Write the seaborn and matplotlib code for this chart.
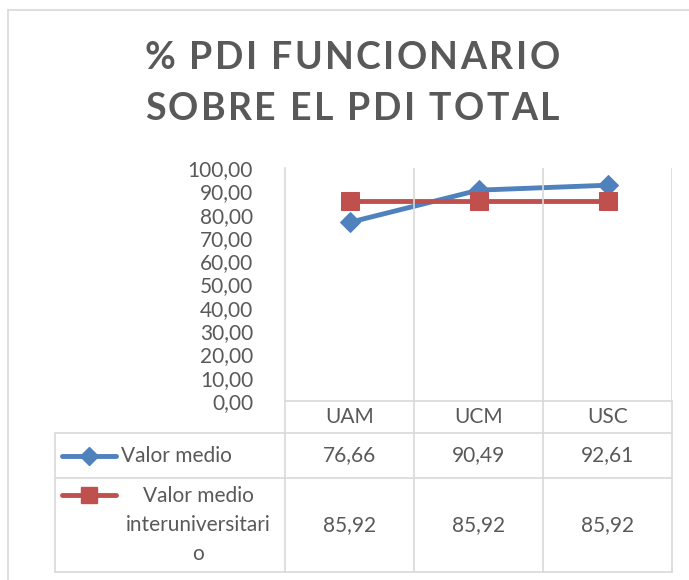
import matplotlib.pyplot as plt
from matplotlib.lines import Line2D
from matplotlib import font_manager
from matplotlib.font_manager import FontProperties
from matplotlib.ft2font import FT2Font
import seaborn as sns
import pandas as pd

# data
universidades = ['UAM', 'UCM', 'USC']
valor_medio = [76.66, 90.49, 92.61]
valor_inter = [85.92, 85.92, 85.92]
series_names = ['Valor medio', 'Valor medio\ninteruniversitari\no']
y_ticks = [0, 10, 20, 30, 40, 50, 60, 70, 80, 90, 100]
title_lines = ['% PDI FUNCIONARIO', 'SOBRE EL PDI TOTAL']

blue = '#4f81bd'
red = '#c0504d'
txt = '#595959'
grid = '#d9d9d9'

sns.set_theme(style='white')
plt.rcParams['font.family'] = ['Lato', 'DejaVu Sans']

W, H = 689, 580
fig = plt.figure(figsize=(W / 100, H / 100), dpi=100)


def fx(px):
    return px / W


def fy(py):
    return 1 - py / H


# outer chart frame
fig.add_artist(Line2D([fx(8), fx(8)], [fy(10), 0], color=grid, lw=1.2))
fig.add_artist(Line2D([fx(8), 1], [fy(10), fy(10)], color=grid, lw=1.2))

# title, drawn letter by letter to get the wide Excel character spacing
title_size = 27
fp = FontProperties(family='Lato', weight='bold')
ft = FT2Font(font_manager.findfont(fp))
ft.set_size(title_size, 100)


def advances(s):
    return [ft.load_char(ord(c)).linearHoriAdvance / 65536 for c in s]


spacing = (415 - sum(advances(title_lines[0]))) / (len(title_lines[0]) - 1)
for line, yc in zip(title_lines, [58, 109]):
    adv = advances(line)
    total = sum(adv) + spacing * (len(line) - 1)
    x = 352 - total / 2
    for c, a in zip(line, adv):
        fig.text(fx(x), fy(yc), c, ha='left', va='center', fontsize=title_size,
                 fontweight='bold', color=txt)
        x += a + spacing

# plot area
left, right, top, bottom = 285, 672, 168, 401
ax = fig.add_axes([fx(left), fy(bottom), fx(right - left), (bottom - top) / H])

df = pd.DataFrame({'uni': universidades, 'medio': valor_medio, 'inter': valor_inter})
sns.lineplot(data=df, x='uni', y='medio', ax=ax, color=blue, lw=3.5,
             marker='D', markersize=10, markeredgecolor=blue, sort=False)
sns.lineplot(data=df, x='uni', y='inter', ax=ax, color=red, lw=3.5,
             marker='s', markersize=13, markeredgecolor=red, sort=False)

ax.set_xlim(-0.5, len(universidades) - 0.5)
ax.set_ylim(0, 100)
ax.set_yticks(y_ticks)
ax.set_yticklabels([f'{v:.2f}'.replace('.', ',') for v in y_ticks],
                   fontsize=15, color=txt)
ax.tick_params(axis='y', length=0, pad=23)
ax.set_xticks([])
ax.set_xlabel('')
ax.set_ylabel('')
for s in ['top', 'right']:
    ax.spines[s].set_visible(False)
for s in ['left', 'bottom']:
    ax.spines[s].set_color(grid)
    ax.spines[s].set_linewidth(1.2)
for i in range(1, len(universidades) + 1):
    ax.axvline(i - 0.5, color=grid, lw=1.2)

# data table below the plot
t_left, t_bottom = 55, 572
axt = fig.add_axes([fx(t_left), fy(t_bottom), fx(right - t_left), (t_bottom - bottom) / H])
axt.set_xlim(t_left, right)
axt.set_ylim(t_bottom, bottom)
axt.axis('off')

col_w = (right - left) / len(universidades)
cols = [left + i * col_w for i in range(len(universidades) + 1)]
r_head, r1, r2 = 433, 478, t_bottom

for c in cols:
    axt.plot([c, c], [bottom, t_bottom], color=grid, lw=1.2, clip_on=False)
axt.plot([t_left, t_left], [r_head, t_bottom], color=grid, lw=1.2, clip_on=False)
for r in [r_head, r1, r2]:
    axt.plot([t_left, right], [r, r], color=grid, lw=1.2, clip_on=False)

for i, u in enumerate(universidades):
    cx = cols[i] + col_w / 2
    axt.text(cx, (bottom + r_head) / 2, u, ha='center', va='center', fontsize=15, color=txt)
    axt.text(cx, (r_head + r1) / 2, f'{valor_medio[i]:.2f}'.replace('.', ','),
             ha='center', va='center', fontsize=15, color=txt)
    axt.text(cx, (r1 + r2) / 2, f'{valor_inter[i]:.2f}'.replace('.', ','),
             ha='center', va='center', fontsize=15, color=txt)

# legend keys inside the table
y1 = (r_head + r1) / 2
axt.plot([62, 116], [y1, y1], color=blue, lw=3.5, solid_capstyle='round')
axt.plot([89], [y1], marker='D', color=blue, markersize=9)
axt.text(121, y1, series_names[0], ha='left', va='center', fontsize=15, color=txt)

y2 = 495
axt.plot([62, 116], [y2, y2], color=red, lw=3.5, solid_capstyle='round')
axt.plot([89], [y2], marker='s', color=red, markersize=11)
axt.text(198, (r1 + r2) / 2, series_names[1], ha='center', va='center',
         fontsize=15, color=txt, linespacing=1.55)

fig.savefig('out.png', dpi=100)
